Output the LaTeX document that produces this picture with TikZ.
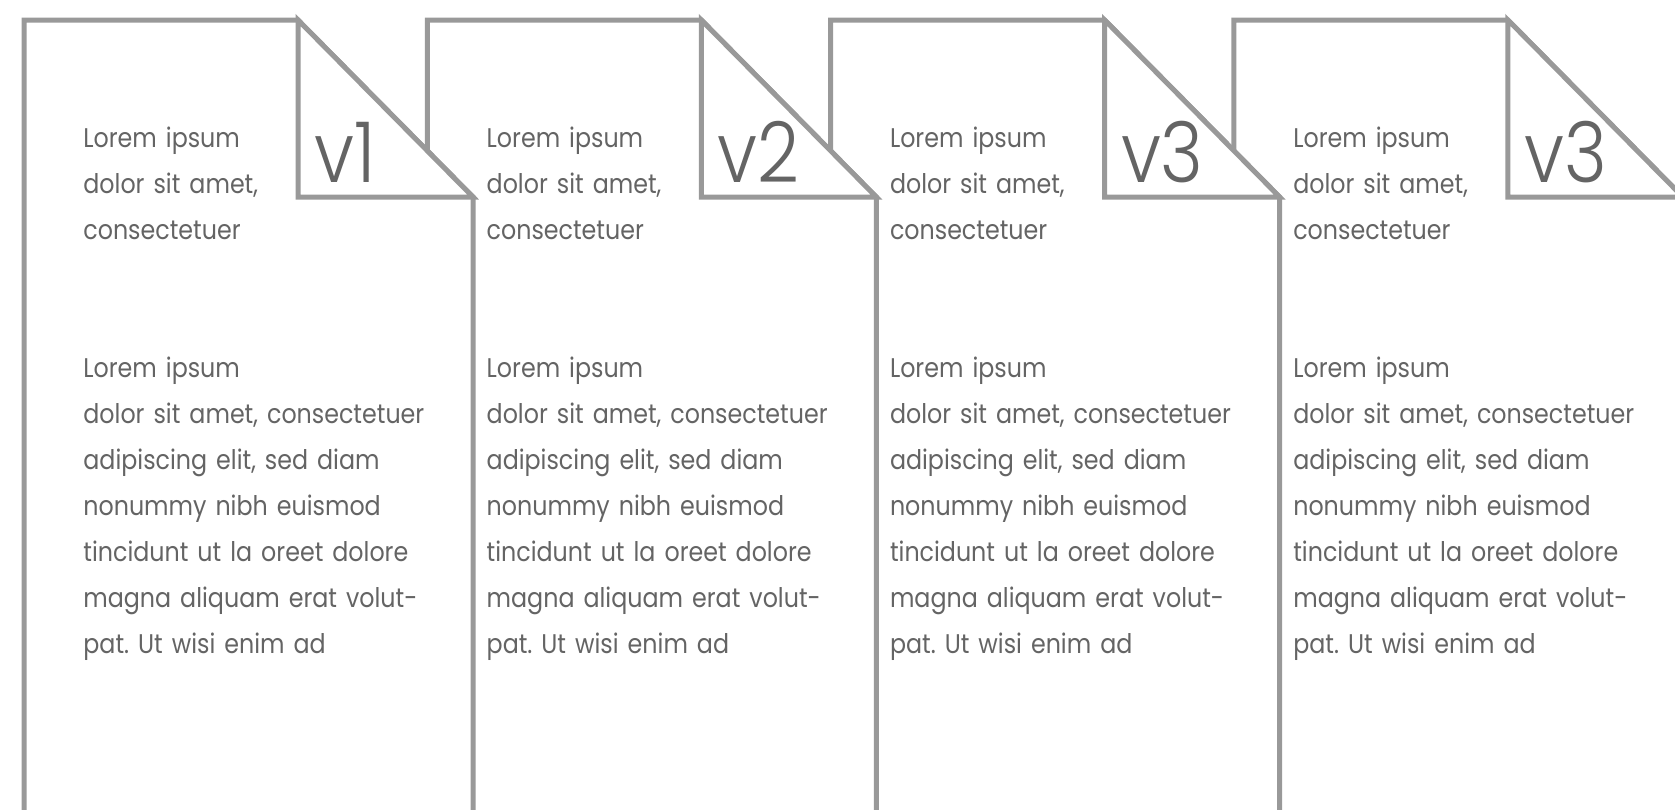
\documentclass[tikz,border=0pt]{standalone}
\usepackage{fontspec}
\setmainfont{Poppins}[FakeStretch=0.88]
\newfontfamily\tagfont{Poppins}[UprightFont=* Light, FakeStretch=0.87]
\usepackage{tikz}
\definecolor{sheetgray}{RGB}{153,153,153}
\definecolor{inkgray}{RGB}{100,100,100}
\frenchspacing

\begin{document}
\begin{tikzpicture}[x=0.5pt,y=-0.5pt]
    \tikzstyle{every node}+=[inner sep=0pt]
    \tikzstyle{sheet}=[draw=sheetgray, line width=2.5pt, fill=white, line join=miter]
    \tikzstyle{blurb}=[anchor=base west, text width=210pt, align=left, text=inkgray, font=\fontsize{13.5}{23}\selectfont]
    \tikzstyle{tag}=[anchor=base west, text=inkgray, font=\tagfont\fontsize{42}{42}\selectfont]
    \useasboundingbox (0,0) rectangle (1675,809);
    \clip (0,0) rectangle (1675,809);
    % sheets from right to left, so each fold lies on the next sheet
    \foreach \i/\v in {3/v3,2/v3,1/v2,0/v1}{
        \pgfmathsetmacro\x{24+403.3*\i}
        \draw [sheet] (\x,840) -- (\x,20) -- (\x+274,20) -- (\x+449,197) -- (\x+449,840);
        \draw [sheet] (\x+274,20) -- (\x+274,197) -- (\x+449,197) -- cycle;
        \node [tag] (tag\i) at (\x+290,182) {\v};
        \node [blurb] (head\i) at (\x+59,147) {Lorem ipsum\\dolor sit amet,\\consectetuer};
        \node [blurb] (body\i) at (\x+59,377) {Lorem ipsum\\dolor sit amet, consectetuer\\adipiscing elit, sed diam\\nonummy nibh euismod\\tincidunt ut la oreet dolore\\magna aliquam erat volut-\\pat. Ut wisi enim ad};
    }
\end{tikzpicture}
\end{document}
